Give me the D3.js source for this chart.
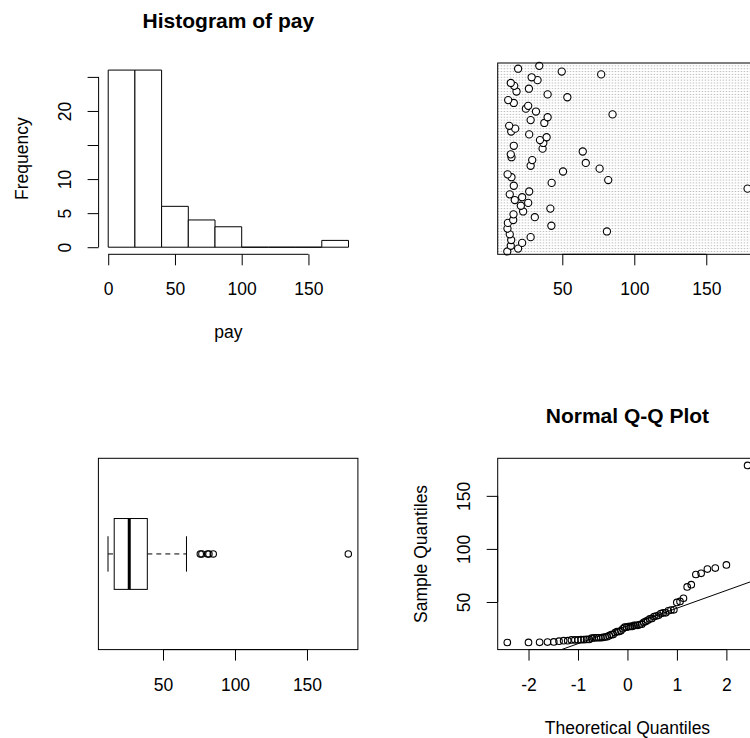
<!DOCTYPE html>
<html>
<head>
<meta charset="utf-8">
<script src="https://cdn.jsdelivr.net/npm/d3@7"></script>
<style>
  body { margin: 0; background: #fff; }
  text { font-family: "Liberation Sans", Arial, sans-serif; fill: #000; }
</style>
</head>
<body>
<svg id="chart" width="750" height="738"></svg>
<script>
"use strict";

// pay values, in dot chart order (bottom row first)
const pay = [
  11.8, 19.3, 14.2, 22.1, 14.5, 28.0, 13.5, 81.0, 11.9, 42.4,
  12.2, 15.9, 30.9, 16.1, 22.8, 41.7, 21.2, 26.3, 17.0, 22.1,
  13.5, 27.0, 178.7, 16.3, 42.6, 81.9, 14.7, 12.0, 50.5, 75.9,
  28.0, 66.3, 29.1, 14.7, 14.2, 64.2, 36.3, 16.3, 36.8, 34.5,
  39.1, 27.0, 14.5, 17.3, 13.1, 37.5, 28.0, 39.8, 84.9, 31.7,
  24.7, 26.3, 16.3, 12.4, 53.5, 39.8, 18.2, 26.8, 16.6, 14.2,
  32.8, 28.7, 77.0, 49.6, 19.3, 34.0
];

const histBreaks  = [0, 20, 40, 60, 80, 100, 120, 140, 160, 180];
const histXTicks  = [0, 50, 100, 150];
const histYTicks  = [0, 5, 10, 15, 20, 25];
const histYLabels = ["0", "5", "10", "", "20", ""];
const payTicks    = [50, 100, 150];
const qqXTicks    = [-2, -1, 0, 1, 2];
const qqYTicks    = [50, 100, 150];

const titles = { hist: "Histogram of pay", qq: "Normal Q-Q Plot" };
const labels = { histX: "pay", histY: "Frequency", qqX: "Theoretical Quantiles", qqY: "Sample Quantiles" };

// layout of the four plot regions
const plotW = 259.5, plotH = 191.3;
const panels = {
  hist: { x: 98.6,  y: 63 },
  dot:  { x: 497.7, y: 63 },
  box:  { x: 98.4,  y: 458.3 },
  qq:   { x: 497.7, y: 458.3 }
};
const fontSize = 17.5;
const plain = d => String(d);   // R prints a hyphen minus

const svg = d3.select("#chart");
svg.append("rect").attr("width", 750).attr("height", 738).attr("fill", "#fff");

// R style 4% axis padding
function pad( ext ) {
  const d = ext[1] - ext[0];
  return [ ext[0] - 0.04 * d, ext[1] + 0.04 * d ];
}

// inverse normal cdf (Acklam)
function qnorm( p ) {
  const a = [-3.969683028665376e+01, 2.209460984245205e+02, -2.759285104469687e+02, 1.383577518672690e+02, -3.066479806614716e+01, 2.506628277459239e+00];
  const b = [-5.447609879822406e+01, 1.615858368580409e+02, -1.556989798598866e+02, 6.680131188771972e+01, -1.328068155288572e+01];
  const c = [-7.784894002430293e-03, -3.223964580411365e-01, -2.400758277161838e+00, -2.549732539343734e+00, 4.374664141464968e+00, 2.938163982698783e+00];
  const d = [7.784695709041462e-03, 3.224671290700398e-01, 2.445134137142996e+00, 3.754408661907416e+00];
  const pl = 0.02425;
  let q, r;
  if( p < pl ) {
    q = Math.sqrt(-2 * Math.log(p));
    return (((((c[0]*q+c[1])*q+c[2])*q+c[3])*q+c[4])*q+c[5]) / ((((d[0]*q+d[1])*q+d[2])*q+d[3])*q+1);
  }
  if( p > 1 - pl ) {
    q = Math.sqrt(-2 * Math.log(1 - p));
    return -(((((c[0]*q+c[1])*q+c[2])*q+c[3])*q+c[4])*q+c[5]) / ((((d[0]*q+d[1])*q+d[2])*q+d[3])*q+1);
  }
  q = p - 0.5; r = q * q;
  return (((((a[0]*r+a[1])*r+a[2])*r+a[3])*r+a[4])*r+a[5])*q / (((((b[0]*r+b[1])*r+b[2])*r+b[3])*r+b[4])*r+1);
}

function panel( p ) {
  return svg.append("g").attr("transform", `translate( ${p.x} , ${p.y} )`);
}

function frame( g ) {
  g.append("rect").attr("width", plotW).attr("height", plotH)
    .attr("fill", "none").attr("stroke", "#000").attr("stroke-width", 1);
}

// bottom axis, line spans first to last tick like R
function bottomAxis( g, x, ticks, fmt ) {
  const ax = g.append("g").attr("transform", `translate(0,${plotH})`)
    .call( d3.axisBottom(x).tickValues(ticks).tickSize(11).tickFormat(fmt || plain) );
  ax.select(".domain").remove();
  ax.attr("font-size", fontSize).attr("font-family", null);
  ax.selectAll("text").attr("y", 41).attr("dy", null);
  ax.append("line").attr("x1", x(ticks[0])).attr("x2", x(ticks[ticks.length - 1]))
    .attr("stroke", "#000");
  return ax;
}

function leftAxis( g, y, ticks, fmt ) {
  const ax = g.append("g")
    .call( d3.axisLeft(y).tickValues(ticks).tickSize(11).tickFormat(fmt || plain) );
  ax.select(".domain").remove();
  ax.attr("font-size", fontSize).attr("font-family", null);
  ax.selectAll("text").attr("x", null).attr("dy", null)
    .attr("text-anchor", "middle")
    .attr("transform", "translate(-27.6,0) rotate(-90)");
  ax.append("line").attr("y1", y(ticks[0])).attr("y2", y(ticks[ticks.length - 1]))
    .attr("stroke", "#000");
  return ax;
}

function title( g, txt ) {
  g.append("text").attr("x", plotW / 2).attr("y", -35)
    .attr("text-anchor", "middle").attr("font-size", 21).attr("font-weight", "bold")
    .text(txt);
}

function xLabel( g, txt ) {
  g.append("text").attr("x", plotW / 2).attr("y", plotH + 84)
    .attr("text-anchor", "middle").attr("font-size", fontSize).text(txt);
}

function yLabel( g, txt ) {
  g.append("text").attr("transform", `translate(-70.6,${plotH / 2}) rotate(-90)`)
    .attr("text-anchor", "middle").attr("font-size", fontSize).text(txt);
}

const sorted = pay.slice().sort(d3.ascending);
const n = pay.length;

// ---------- histogram ----------
{
  const g = panel(panels.hist);
  const bins = d3.bin()
    .domain([histBreaks[0], histBreaks[histBreaks.length - 1]])
    .thresholds(histBreaks.slice(1, -1))(pay);
  const x = d3.scaleLinear().domain(pad([histBreaks[0], histBreaks[histBreaks.length - 1]])).range([0, plotW]);
  const y = d3.scaleLinear().domain(pad([0, d3.max(bins, b => b.length)])).range([plotH, 0]);

  g.selectAll("path.bar").data(bins).join("path")
    .attr("class", "bar")
    .attr("d", b => `M${x(b.x0)},${y(0)}V${y(b.length)}H${x(b.x1)}V${y(0)}Z`)
    .attr("fill", "#fff").attr("stroke", "#000");

  bottomAxis(g, x, histXTicks);
  leftAxis(g, y, histYTicks, (d, i) => histYLabels[i]);
  title(g, titles.hist);
  xLabel(g, labels.histX);
  yLabel(g, labels.histY);
}

// ---------- dot chart ----------
{
  const g = panel(panels.dot);
  const x = d3.scaleLinear().domain(pad(d3.extent(pay))).range([0, plotW]);
  const y = d3.scaleLinear().domain([0, n + 1]).range([plotH, 0]);

  g.selectAll("line.row").data(pay).join("line")
    .attr("class", "row")
    .attr("x1", 0).attr("x2", plotW)
    .attr("y1", (d, i) => y(i + 1)).attr("y2", (d, i) => y(i + 1))
    .attr("stroke", "#bebebe").attr("stroke-dasharray", "1.5,1.5");

  g.selectAll("circle").data(pay).join("circle")
    .attr("cx", d => x(d)).attr("cy", (d, i) => y(i + 1)).attr("r", 3.6)
    .attr("fill", "#fff").attr("stroke", "#000").attr("stroke-width", 1.1);

  frame(g);
  bottomAxis(g, x, payTicks);
}

// ---------- box plot ----------
{
  const g = panel(panels.box);
  const x = d3.scaleLinear().domain(pad(d3.extent(pay))).range([0, plotW]);
  const y = d3.scaleLinear().domain(pad([0.5, 1.5])).range([plotH, 0]);

  // fivenum hinges
  const n4 = Math.floor((n + 3) / 2) / 2;
  const at = k => 0.5 * (sorted[Math.floor(k) - 1] + sorted[Math.ceil(k) - 1]);
  const q1 = at(n4), med = at((n + 1) / 2), q3 = at(n + 1 - n4);
  const iqr = q3 - q1;
  const inside = sorted.filter(v => v >= q1 - 1.5 * iqr && v <= q3 + 1.5 * iqr);
  const lo = d3.min(inside), hi = d3.max(inside);
  const outliers = sorted.filter(v => v < lo || v > hi);

  g.append("line").attr("x1", x(lo)).attr("x2", x(q1)).attr("y1", y(1)).attr("y2", y(1))
    .attr("stroke", "#000").attr("stroke-dasharray", "5,4");
  g.append("line").attr("x1", x(q3)).attr("x2", x(hi)).attr("y1", y(1)).attr("y2", y(1))
    .attr("stroke", "#000").attr("stroke-dasharray", "5,4");
  g.selectAll("line.staple").data([lo, hi]).join("line")
    .attr("class", "staple")
    .attr("x1", d => x(d)).attr("x2", d => x(d))
    .attr("y1", y(0.9)).attr("y2", y(1.1)).attr("stroke", "#000");
  g.append("rect")
    .attr("x", x(q1)).attr("width", x(q3) - x(q1))
    .attr("y", y(1.2)).attr("height", y(0.8) - y(1.2))
    .attr("fill", "#fff").attr("stroke", "#000");
  g.append("line").attr("x1", x(med)).attr("x2", x(med)).attr("y1", y(1.2)).attr("y2", y(0.8))
    .attr("stroke", "#000").attr("stroke-width", 3);
  g.selectAll("circle").data(outliers).join("circle")
    .attr("cx", d => x(d)).attr("cy", y(1)).attr("r", 3.2)
    .attr("fill", "none").attr("stroke", "#000").attr("stroke-width", 1.1);

  frame(g);
  bottomAxis(g, x, payTicks);
}

// ---------- normal Q-Q plot ----------
{
  const g = panel(panels.qq);
  const theo = sorted.map((v, i) => qnorm((i + 0.5) / n));
  const x = d3.scaleLinear().domain(pad(d3.extent(theo))).range([0, plotW]);
  const y = d3.scaleLinear().domain(pad(d3.extent(sorted))).range([plotH, 0]);

  g.append("clipPath").attr("id", "qqclip")
    .append("rect").attr("width", plotW).attr("height", plotH);

  // qqline through the quartiles
  const yq1 = d3.quantileSorted(sorted, 0.25), yq3 = d3.quantileSorted(sorted, 0.75);
  const xq1 = qnorm(0.25), xq3 = qnorm(0.75);
  const slope = (yq3 - yq1) / (xq3 - xq1);
  const icpt = yq1 - slope * xq1;
  const xd = x.domain();
  g.append("line").attr("clip-path", "url(#qqclip)")
    .attr("x1", x(xd[0])).attr("y1", y(icpt + slope * xd[0]))
    .attr("x2", x(xd[1])).attr("y2", y(icpt + slope * xd[1]))
    .attr("stroke", "#000");

  g.selectAll("circle").data(sorted).join("circle")
    .attr("cx", (d, i) => x(theo[i])).attr("cy", d => y(d)).attr("r", 3.3)
    .attr("fill", "none").attr("stroke", "#000").attr("stroke-width", 1.1);

  frame(g);
  bottomAxis(g, x, qqXTicks);
  leftAxis(g, y, qqYTicks);
  title(g, titles.qq);
  xLabel(g, labels.qqX);
  yLabel(g, labels.qqY);
}
</script>
</body>
</html>
